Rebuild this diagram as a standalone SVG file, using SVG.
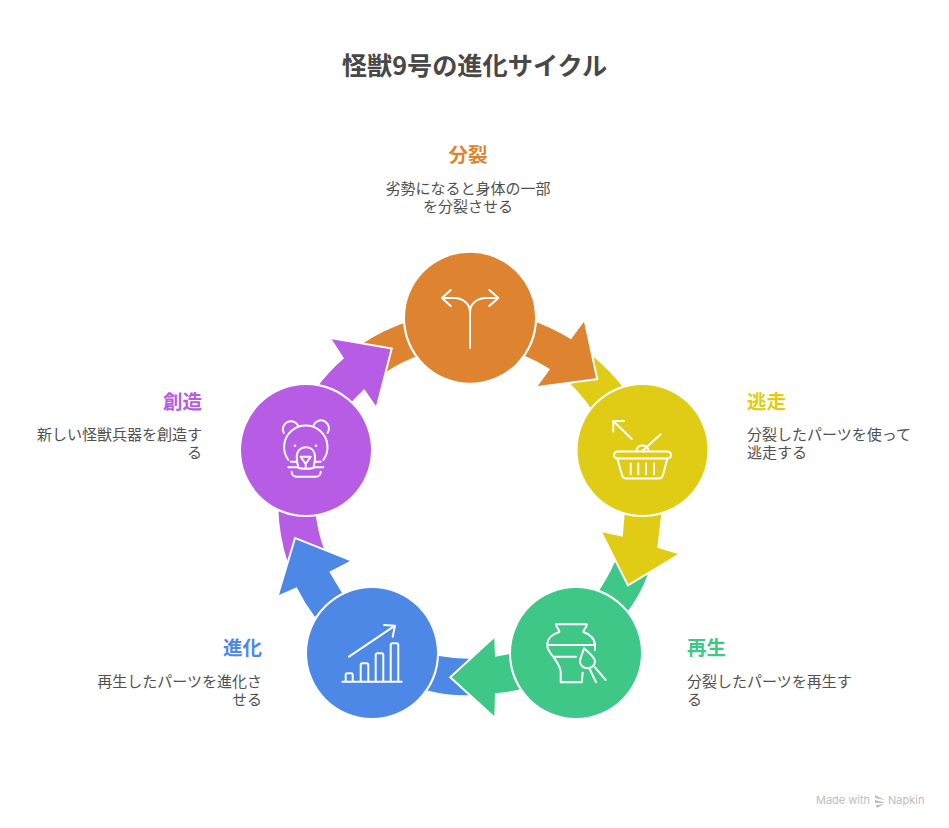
<svg xmlns="http://www.w3.org/2000/svg" width="949" height="828" viewBox="0 0 949 828">
<style>
text{font-family:"Noto Sans CJK JP","Noto Sans",sans-serif}
.title{font-size:25.2px;font-weight:700;fill:#484848;text-anchor:middle}
.head{font-size:19.500px;font-weight:700}
.body{font-size:15px;fill:#505050}
.e{text-anchor:end}.m{text-anchor:middle}
.o{fill:#DE8431}.y{fill:#E0CC14}.g{fill:#3EC787}.b{fill:#4E88E7}.p{fill:#B75CE4}
.arrow{stroke:#fff;stroke-width:4;stroke-linejoin:miter;stroke-miterlimit:10;paint-order:stroke}
.disc{stroke:#fff;stroke-width:4;paint-order:stroke}
.icon{fill:none;stroke:#fff;stroke-width:2;stroke-linecap:round;stroke-linejoin:round}
</style>
<rect width="949" height="828" fill="#fff"/>
<text class="title" x="474.500" y="74.500">怪獣9号の進化サイクル</text>
<g id="connectors">
<path class="o" d="M362,344 A190,190 0 0 1 410,321 L420,355 A150,150 0 0 0 386,372 L380,378 Z"/>
<path class="p" d="M278.300,505 A190,190 0 0 0 287.700,562.300 L325,552 A150,150 0 0 1 315,505 Z"/>
<path class="b" d="M432,655 L439,656 A190,190 0 0 0 475,659 L475,695 A150,150 0 0 1 428.300,690.700 L422,690 Z"/>
<path class="p arrow" d="M315,390 A190,190 0 0 1 344,358.300 L331.700,339.300 L390.500,349.300 L376,406 L364.300,389 A150,150 0 0 0 345,410 Z"/>
<path class="y" d="M593.300,356.700 A190,190 0 0 1 625,390 L592,410 A150,150 0 0 0 570.700,384.300 L585,370 Z"/>
<path class="g" d="M615,561.700 A190,190 0 0 1 596,595 L625,615 A150,150 0 0 0 648.300,573.300 L630,570 Z"/>
<path class="b arrow" d="M345,598 L329.300,571.700 L350,561 L295.700,539.300 L279,595 L296.700,587.300 A190,190 0 0 0 315,617 Z"/>
<path class="g arrow" d="M515,653 L495,656.700 L494.300,638.300 L451.700,677.300 L494.300,716 L495,693.300 A150,150 0 0 0 525,688 Z"/>
<path class="y arrow" d="M661.700,510 L657.300,547.700 L678,554 L628.300,584 L602.300,532.300 L622.700,536.700 L625,510 Z"/>
<path class="o arrow" d="M530,320 A190,190 0 0 1 571,339.300 L584,321.700 L596,378.300 L537.700,386 L550,369.300 A150,150 0 0 0 520,354 Z"/>
</g>
<g id="node-split">
<circle class="o disc" cx="470" cy="317.700" r="65"/>
<path class="icon" d="M470,348V312C470,304 463,298 454,298H442M450.700,290L442,298L450.700,306M470,312C470,304 477,298 486,298H498.300M489.300,290L498.300,298L489.300,306"/>
<text class="head o m" x="468" y="162">分裂</text>
<text class="body m" x="468" y="194">劣勢になると身体の一部</text>
<text class="body m" x="468" y="212">を分裂させる</text>
</g>
<g id="node-escape">
<circle class="y disc" cx="642.500" cy="450" r="65"/>
<path class="icon" d="M631.700,439L613.300,421M624,421H613.300V431.700"/>
<rect class="icon" x="614" y="451.500" width="57" height="7" rx="3.500"/>
<path class="icon" d="M617.300,458.500L622,475Q623,478.500 626,478.500H659Q662,478.500 663,475L667.300,458.500M630.700,463.500V474.300M638.300,463.500V474.300M646,463.500V474.300M654,463.500V474.300M636.700,451V449.500A6,5.500 0 0 1 648.300,449.500V451M642.300,451L660.700,434.300"/>
<text class="head y" x="747" y="408.500">逃走</text>
<text class="body" x="747" y="440">分裂したパーツを使って</text>
<text class="body" x="747" y="458">逃走する</text>
</g>
<g id="node-regen">
<circle class="g disc" cx="576" cy="653" r="65"/>
<path class="icon" d="M556,624.300H586.700C587,628 583.300,629 583.300,632C590,634 595,639 595,645V650M556,624.300C556,628 559.500,629 559.500,632C552,634 547.300,639 547.300,645C547.300,650 550,653 553.300,656.700C557,662 560.700,667 560.700,672V682.300H581.700L582.700,672.700M547.300,645H595M553.300,656.700H576M584,648.300C588,652 595,657 595,661.500C595,666 591,668.300 587.500,668.300C583,668.300 580,665 580,661.500C580,657 583,653 584,648.300ZM589.300,668.300L596,682.300M595,667.300L605.700,680"/>
<text class="head g" x="687" y="654.500">再生</text>
<text class="body" x="687" y="687">分裂したパーツを再生す</text>
<text class="body" x="687" y="705">る</text>
</g>
<g id="node-evolve">
<circle class="b disc" cx="372" cy="653" r="65"/>
<path class="icon" d="M342.300,681.700H401.700M345.700,681.700V675Q345.700,673.300 347.500,673.300H351Q352.700,673.300 352.700,675V681.700M360.700,681.700V665Q360.700,663.300 362.500,663.300H366.500Q368.300,663.300 368.300,665V681.700M375.700,681.700V655Q375.700,653.300 377.500,653.300H381.500Q383.300,653.300 383.300,655V681.700M390.700,681.700V645Q390.700,643.300 392.500,643.300H396.500Q398.300,643.300 398.300,645V681.700M349,656.700L395,625.700M384,625L395,625.700L392.700,636.700"/>
<text class="head b e" x="262" y="654.500">進化</text>
<text class="body e" x="262" y="687">再生したパーツを進化さ</text>
<text class="body e" x="262" y="705">せる</text>
</g>
<g id="node-create">
<circle class="p disc" cx="306" cy="450" r="65"/>
<path class="icon" d="M288.300,460A21.700,21.700 0 1 1 323.300,460M283.800,433A8,8 0 1 1 298,425.500M313.500,425.500A8,8 0 1 1 327.500,433M298.500,468C297,463 296.700,460 296.700,457C296.700,451 300.500,447.300 306,447.300C311.500,447.300 315,451 315,457C315,460 314.700,463 313.500,468C309,469 303,469 298.500,468ZM300.700,456.700H310.700L305.700,464ZM305.700,464V468.300M288.300,467.300H296.700M315,467.300H323.300M290.700,461.700H296.700M315,461.700H320.700M291.700,471.700V472A4.700,4.700 0 0 0 296.400,476.700H316A4.700,4.700 0 0 0 320.700,472V471.700"/>
<circle cx="295" cy="445.700" r="1.300" fill="#fff"/>
<circle cx="316" cy="445.700" r="1.300" fill="#fff"/>
<text class="head p e" x="202" y="408.500">創造</text>
<text class="body e" x="202" y="440">新しい怪獣兵器を創造す</text>
<text class="body e" x="202" y="458">る</text>
</g>
<g id="watermark" fill="#bdbdbd">
<text x="816" y="804" style="font-family:Inter,'Noto Sans',sans-serif;font-size:11px">Made with</text>
<path d="M875,795L885,800L875,798ZM875,800L886,803L875,803ZM876,805L884,804L877,808Z"/>
<text x="888" y="804" style="font-family:Inter,'Noto Sans',sans-serif;font-size:11px">Napkin</text>
</g>
</svg>
